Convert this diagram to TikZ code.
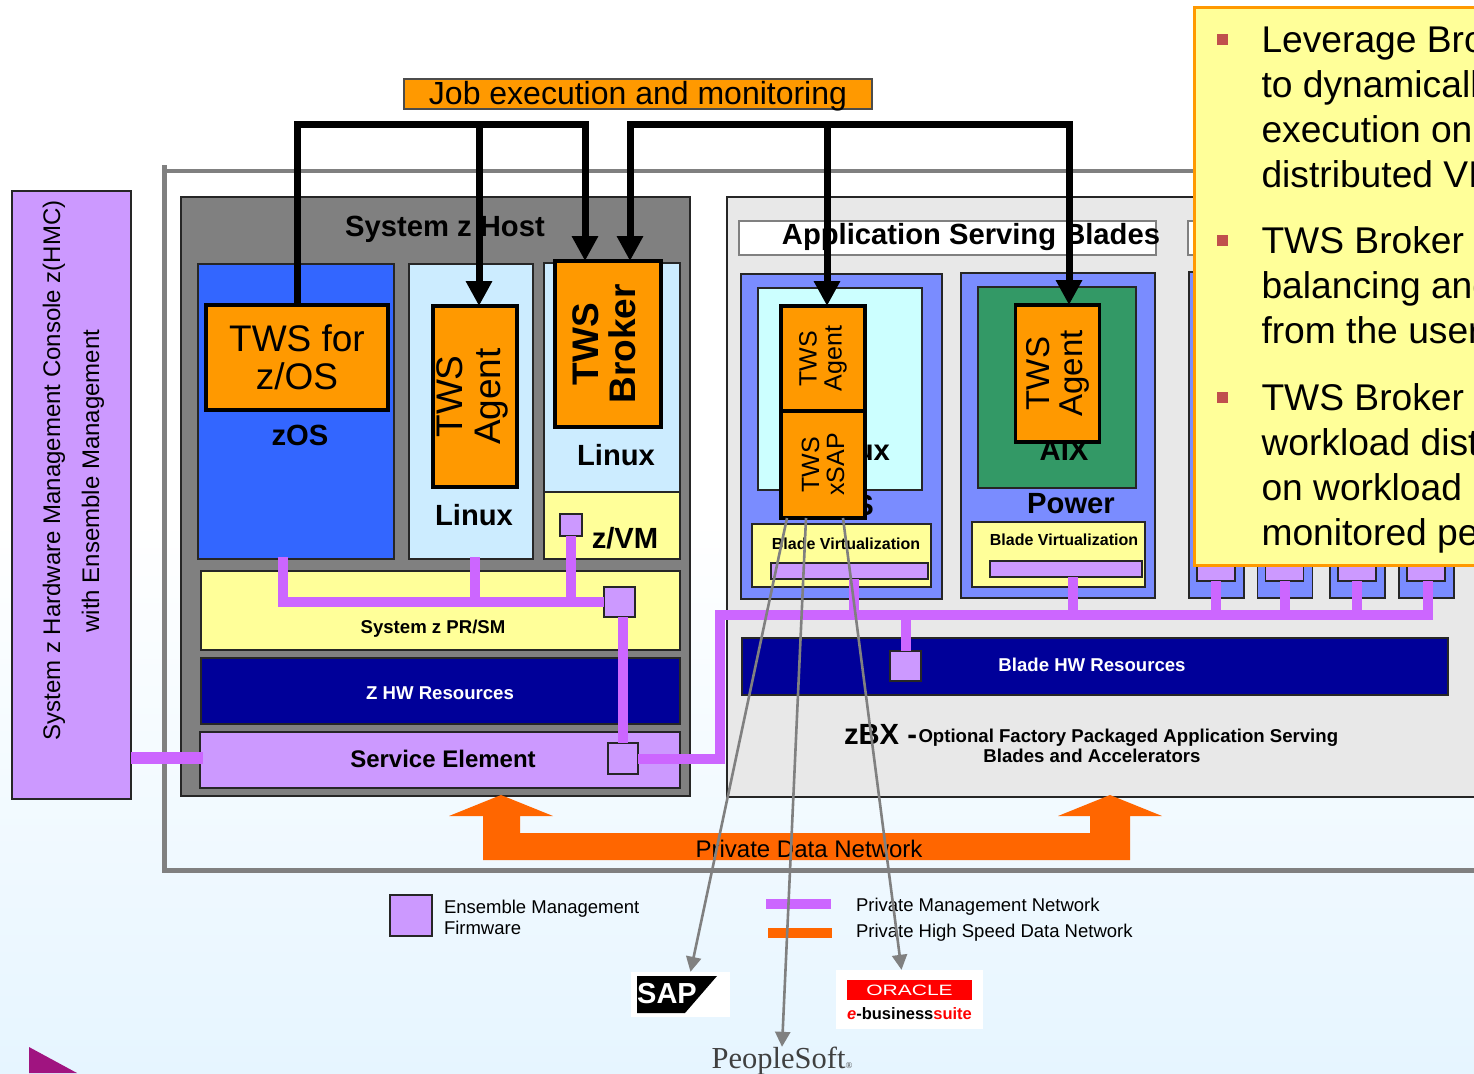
\documentclass[tikz,border=0pt]{standalone}
\usepackage{xcolor}
\usepackage{fontspec}
\setmainfont{Liberation Sans}
\newfontfamily\psfont{Liberation Serif}
\usepackage{tikz}
\usetikzlibrary{arrows.meta,positioning}
\definecolor{firm}{HTML}{CC99FF}
\definecolor{mgt}{HTML}{CC66FF}
\definecolor{tws}{HTML}{FF9900}
\definecolor{lemon}{HTML}{FFFF99}
\definecolor{navy}{HTML}{000099}
\definecolor{datanet}{HTML}{FF6600}
\definecolor{frame}{HTML}{808080}
\definecolor{bladeblue}{HTML}{7A8CFF}
\definecolor{sky}{HTML}{CCECFF}
\definecolor{mint}{HTML}{CCFFFF}
\definecolor{aixgreen}{HTML}{339966}
\definecolor{zblue}{HTML}{3366FF}
\definecolor{zbxgray}{HTML}{E8E8E8}
\definecolor{bullet}{HTML}{C0504D}
\definecolor{wash}{HTML}{E6F5FF}
\definecolor{corner}{HTML}{A01480}
\begin{document}
\begin{tikzpicture}[
  x=1pt, y=-1pt,
  wh/.style 2 args={minimum width=#1pt, minimum height=#2pt},
  n/.style={draw=black!85, line width=1.1pt, inner sep=0pt, outer sep=0pt, align=center},
  tw/.style={n, draw=black, line width=3.6pt, fill=tws},
  t/.style={inner sep=0pt, outer sep=0pt, align=center, font=\fontsize{29.2}{31}\selectfont\bfseries},
  tb/.style={t, font=\fontsize{18.6}{21}\selectfont\bfseries},
  tv/.style={t, font=\fontsize{16}{18}\selectfont\bfseries},
  leg/.style={t, align=left, font=\fontsize{18.5}{21}\selectfont},
  big/.style={font=\fontsize{37}{38}\selectfont},
  note/.style={t, align=left, anchor=north west, font=\fontsize{37.2}{45}\selectfont},
  mg/.style={mgt, line width=10pt},
  job/.style={line width=7pt, -{Triangle[length=25pt,width=25pt]}},
  jobs/.style={line width=7pt, {Triangle[length=25pt,width=25pt]}-{Triangle[length=25pt,width=25pt]}},
  gr/.style={frame, line width=2.6pt, -{Triangle[length=15pt,width=15pt]}}
]
\useasboundingbox (0,0) rectangle (1474,1073);
\clip (0,0) rectangle (1474,1073);
\fill[white] (0,0) rectangle (1474,520);
\shade[top color=white, bottom color=wash] (0,520) rectangle (1474,1073);
\fill[corner] (29,1047) -- (77,1073) -- (29,1073) -- cycle;
\draw[frame, line width=5pt] (164,165) -- (164,870) -- (1490,870);
\draw[frame, line width=4.5pt] (164,171) -- (1490,171);
\node[n, fill=firm, wh={119}{608}] (hmc) at (71.5,495) {};
\node[t, rotate=90, font=\fontsize{24}{26}\selectfont] (hmca) at (54,470.5) {System z Hardware Management Console z(HMC)};
\node[t, rotate=90, font=\fontsize{24}{26}\selectfont] (hmcb) at (93,481) {with Ensemble Management};
\node[n, fill=frame, wh={509}{599}] (host) at (435.5,496.5) {};
\node[t] (hosttxt) at (445,229) {System z Host};
\node[n, fill=zblue, wh={196}{295}] (zos) at (296,411.5) {};
\node[n, fill=sky, wh={124}{295}] (lnxa) at (471,411.5) {};
\node[n, fill=sky, wh={136}{229}] (lnxb) at (612,377.5) {};
\node[n, fill=lemon, wh={136}{67}] (zvm) at (612,525.5) {};
\node[tw, wh={182}{105}, big] (twsz) at (297,357.5) {};
\node[t, big, font=\fontsize{37}{38}\selectfont] (twsztxt) at (297,357) {TWS for\\z/OS};
\node[t] (zostxt) at (300,435) {zOS};
\node[tw, wh={181}{84}, rotate=90, big] (agl) at (475,396.5) {};
\node[t, rotate=90, font=\fontsize{37}{38}\selectfont] (agltxt) at (472,396.5) {TWS\\Agent};
\node[t] (lnxatxt) at (474,515) {Linux};
\node[tw, wh={166}{106}, rotate=90] (brk) at (608,344) {};
\node[t, rotate=90, font=\fontsize{37}{37}\selectfont\bfseries] (brktxt) at (604,344) {TWS\\Broker};
\node[t] (lnxbtxt) at (616,455) {Linux};
\node[t] (zvmtxt) at (625,538) {z/VM};
\node[n, fill=lemon, wh={479}{79}] (prsm) at (440.5,610.5) {};
\node[tb] (prsmtxt) at (433,629) {System z PR/SM};
\node[n, fill=navy, wh={479}{66}] (zhw) at (440.5,691) {};
\node[tb, white] (zhwtxt) at (440,693) {Z HW Resources};
\node[n, fill=firm, wh={480}{56}] (se) at (440,760) {};
\node[t, font=\fontsize{24}{26}\selectfont\bfseries] (setxt) at (443,759) {Service Element};
\node[n, fill=firm, wh={22}{22}] (sqzvm) at (571,525) {};
\node[n, fill=firm, wh={31}{30}] (sqpr) at (619.5,602) {};
\node[n, fill=firm, wh={30}{31}] (sqse) at (623,758.5) {};
\coordinate (buszos) at (283,557);
\coordinate (buslnx) at (475,557);
\draw[mg] (buszos) |- (sqpr.west);
\draw[mg] (buslnx) -- (buslnx |- sqpr);
\draw[mg] (sqzvm.south) -- (sqzvm.south |- sqpr);
\draw[mg] (sqse.north |- sqpr.south) -- (sqse.north);
\draw[mgt, line width=12pt] (hmc.east |- 0,758) -- (203,758);
\node[n, fill=zbxgray, wh={760}{600}] (zbx) at (1107,497) {};
\node[n, draw=frame, fill=white, line width=2pt, wh={417}{34}] (asb) at (947.5,238) {};
\node[n, draw=frame, fill=white, line width=2pt, wh={40}{34}] (asc) at (1208,238) {};
\node[t] (asbtxt) at (971,237) {Application Serving Blades};
\node[n, fill=bladeblue, wh={201}{325}] (ba) at (841.5,436.5) {};
\node[n, fill=mint, wh={164}{202}] (osa) at (840,389) {};
\node[t] (osatxt) at (851,450) {Linux};
\node[t] (satxt) at (864,505) {S};
\node[n, fill=lemon, wh={179}{63}] (bva) at (841.5,555.5) {};
\node[tv] (bvatxt) at (846,544) {Blade Virtualization};
\node[n, fill=firm, wh={157}{16}] (pva) at (849.5,571) {};
\node[n, fill=bladeblue, wh={194}{325}] (bb) at (1058,435.5) {};
\node[n, fill=aixgreen, wh={158}{201}] (osb) at (1057,387.5) {};
\node[t] (osbtxt) at (1064,450) {AIX};
\node[t] (pwr) at (1071,504) {Power};
\node[n, fill=lemon, wh={173}{65}] (bvb) at (1058.5,554.5) {};
\node[tv] (bvbtxt) at (1064,540) {Blade Virtualization};
\node[n, fill=firm, wh={152}{16}] (pvb) at (1066,569) {};
\node[tw, wh={105}{84}, rotate=90, font=\fontsize{25}{25}\selectfont] (aga) at (823,358.5) {TWS\\Agent};
\node[tw, wh={107}{84}, rotate=90, font=\fontsize{25}{25}\selectfont] (sapa) at (823,464.5) {TWS\\xSAP};
\node[tw, wh={137}{84}, rotate=90, font=\fontsize{33}{33}\selectfont] (agb) at (1057.5,373.5) {TWS\\Agent};
\foreach \nm/\cx/\px in {ca/1216.5/1216, cb/1285/1284.5, cc/1357.5/1357, cd/1426.5/1426}{
  \node[n, fill=bladeblue, wh={55}{326}] (\nm) at (\cx,435) {};
  \node[n, fill=firm, wh={38}{30}] (p\nm) at (\px,566) {};
}
\node[n, fill=navy, wh={706}{57}] (zbxhw) at (1095,666.5) {};
\node[tb, white] (zbxhwtxt) at (1092,665) {Blade HW Resources};
\node[n, fill=firm, wh={31}{30}] (sqhw) at (905.5,666) {};
\coordinate (busw) at (720,615);
\coordinate (buse) at (1433,615);
\draw[mg] (sqse.east) -| (busw) -- (buse);
\draw[mg] ([xshift=4pt]pva.south) -- ([xshift=4pt]pva.south |- busw);
\draw[mg] ([xshift=7pt]pvb.south) -- ([xshift=7pt]pvb.south |- busw);
\draw[mg] (sqhw.north) -- (sqhw.north |- busw);
\draw[mg] (pca.south) -- (pca.south |- busw);
\draw[mg] (pcb.south) -- (pcb.south |- busw);
\draw[mg] (pcc.south) -- (pcc.south |- busw);
\draw[mg] ([xshift=2pt]pcd.south) -- ([xshift=2pt]pcd.south |- busw);
\node[t, anchor=east] (zbxa) at (917,734) {zBX -};
\node[tb, anchor=west] (zbxb) at (918.5,738) {Optional Factory Packaged Application Serving};
\node[tb] (zbxc) at (1092,756) {Blades and Accelerators};
\fill[datanet] (483,860) -- (483,816) -- (449,816) -- (501,795) -- (553,816) -- (520,816) -- (520,833)
  -- (1090,833) -- (1090,816) -- (1058,816) -- (1110,795) -- (1162,816) -- (1130,816) -- (1130,860) -- cycle;
\node[t, font=\fontsize{24}{26}\selectfont] (pdn) at (809,849) {Private Data Network};
\node[n, fill=firm, wh={42}{41}] (legf) at (411,915.5) {};
\node[leg, anchor=west] (legftxt) at (444,917.5) {Ensemble Management\\Firmware};
\node[inner sep=0pt, fill=mgt, wh={65}{10}] (legm) at (798.5,904) {};
\node[inner sep=0pt, fill=datanet, wh={64}{10}] (legd) at (800,933) {};
\node[leg, anchor=west] (legmtxt) at (856,907) {Private Management Network};
\node[leg, anchor=west] (legdtxt) at (856,933) {Private High Speed Data Network};
\node[inner sep=0pt, fill=white, wh={99}{45}] (sap) at (680.5,994.5) {};
\fill[black] (637,976) -- (717,976) -- (685,1013) -- (637,1013) -- cycle;
\node[t, white, font=\fontsize{29}{30}\selectfont\bfseries] (saptxt) at (667,994) {SAP};
\node[inner sep=0pt, fill=white, wh={147}{59}] (ora) at (909.5,999.5) {};
\node[inner sep=0pt, fill=red, wh={125}{20}, text=white] (orared) at (909.5,990) {\fontsize{15}{15}\selectfont\scalebox{1.4}[1]{ORACLE}};
\node[t, font=\fontsize{16.5}{18}\selectfont\bfseries] (oratxt) at (909.5,1014) {{\color{red}\itshape e}-business{\color{red}suite}};
\node[inner sep=0pt, text=black!75, font=\psfont\fontsize{30.5}{32}\selectfont] (ps) at (782,1061) {PeopleSoft{\fontsize{9}{9}\selectfont ®}};
\node[n, draw=black!70, fill=tws, line width=2pt, wh={468}{30}] (jem) at (638,94) {};
\node[t, font=\fontsize{32}{34}\selectfont] (jemtxt) at (638,96) {Job execution and monitoring};
\coordinate (joba) at (585,124);
\coordinate (jobb) at (1069,124);
\draw[job] (twsz.north) |- (joba) -- ([xshift=-23pt]brk.east);
\draw[job] ([xshift=4pt]agl.east |- joba) -- ([xshift=4pt]agl.east);
\draw[jobs] ([xshift=22pt]brk.east) |- (jobb) -- (jobb |- agb.east);
\draw[job] ([xshift=4pt]aga.east |- jobb) -- ([xshift=4pt]aga.east);
\draw[gr] ([xshift=-36pt]sapa.west) -- ([xshift=10pt]sap.north);
\draw[gr] ([xshift=-17pt]sapa.west) -- (ps.north);
\draw[gr] ([xshift=20pt]sapa.west) -- ([xshift=-8pt]ora.north);
\node[draw=tws, line width=3pt, fill=lemon, inner sep=0pt, wh={296}{557}] (ntbox) at (1342,286.5) {};
\foreach \nm/\by in {ba/39.5, bb/240, bc/397}{
  \node[inner sep=0pt, fill=bullet, wh={11}{11}] (\nm) at (1222,\by) {};
}
\node[note] (nta) at (1261.5,27) {Leverage Bro\\to dynamicall\\execution on\\distributed VI};
\node[note] (ntb) at (1261.5,227) {TWS Broker\\balancing and\\from the user};
\node[note] (ntc) at (1261.5,384) {TWS Broker\\workload dist\\on workload\\monitored pe};
\end{tikzpicture}
\end{document}
